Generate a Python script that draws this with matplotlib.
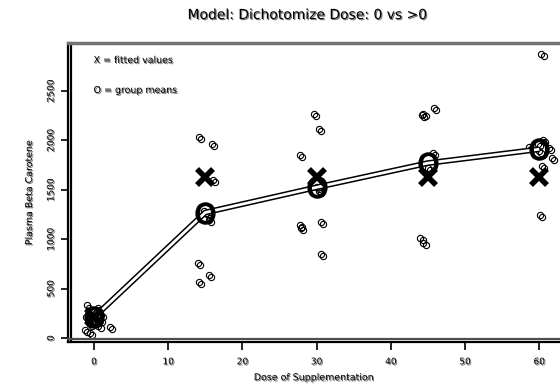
import numpy as np
import matplotlib
matplotlib.use("Agg")
import matplotlib.pyplot as plt
import matplotlib.patheffects as pe
import matplotlib.transforms as mtransforms

plt.rcParams['font.family'] = ['DejaVu Sans']

# dose groups
doses = [0, 15, 30, 45, 60]
group_means = [210, 1270, 1525, 1770, 1910]
fitted = [210, 1625, 1625, 1625, 1625]

# individual observations (jittered dose, beta carotene)
obs_dose = [-1.0, -1.1, -0.2, -1.2, -0.6, 2.2, 0.3, 0.8, -0.5, 0.5, 1.0, 0.0, 0.6, -0.3,
            14.2, 15.9, 16.0, 15.5, 14.0, 15.5, 14.2, 14.8, 15.3,
            29.6, 30.3, 27.8, 27.8, 27.9, 30.6, 30.6, 30.0, 30.3,
            44.2, 44.4, 45.8, 45.7, 44.0, 44.4, 45.0,
            60.3, 58.6, 60.5, 61.3, 61.7, 60.4, 60.1, 59.8, 60.0]
obs_value = [330, 210, 160, 80, 50, 110, 250, 180, 140, 300, 230, 270, 120, 190,
             2030, 1965, 1600, 1195, 760, 640, 570, 1290, 1240,
             2265, 2115, 1850, 1145, 1110, 1175, 850, 1530, 1490,
             2255, 2270, 2325, 1870, 1010, 960, 1720,
             2875, 1935, 2005, 1925, 1820, 1740, 1245, 1960, 1890]

shadow = [pe.withSimplePatchShadow(offset=(0.8, -0.8), shadow_rgbFace='k', alpha=0.55)]

fig = plt.figure(figsize=(5.6, 3.88), dpi=100)
ax = fig.add_axes([68 / 560, 1 - 342 / 388, 1 - 68 / 560, (342 - 42.5) / 388])

# points drawn twice with a small offset, like the original device
off = mtransforms.offset_copy(ax.transData, fig=fig, x=1.5, y=-1.5, units='points')
ax.plot(obs_dose, obs_value, 'o', ms=4.5, mfc='none', mec='k', mew=0.8)
ax.plot(obs_dose, obs_value, 'o', ms=4.5, mfc='none', mec='k', mew=0.8, transform=off)

# double line through the group means
ax.plot(doses, group_means, color='k', lw=4.2, solid_capstyle='butt', zorder=3)
ax.plot(doses, group_means, color='white', lw=2.0, solid_capstyle='butt', zorder=4)

ax.plot(doses, group_means, ls='none', marker='$\\mathrm{O}$', ms=15, mfc='k', mec='k',
        mew=1.2, zorder=5)
ax.plot(doses, fitted, ls='none', marker='x', ms=11, mec='k', mew=4, zorder=6)

ax.set_xlim(-3.5, 62.8)
ax.set_ylim(-40, 2990)
ax.set_xticks([0, 10, 20, 30, 40, 50, 60])
ax.set_yticks([0, 500, 1000, 1500, 2000, 2500])
ax.tick_params(axis='x', direction='out', length=6, width=1.2, labelsize=6.5, pad=5)
ax.tick_params(axis='y', direction='out', length=5, width=1.2, labelsize=6.5, pad=4)
for lab in ax.get_yticklabels():
    lab.set_rotation(90)
    lab.set_va('center')
for lab in ax.get_xticklabels() + ax.get_yticklabels():
    lab.set_path_effects(shadow)

ax.spines['right'].set_visible(False)
ax.spines['top'].set_color('0.45')
ax.spines['top'].set_linewidth(2.5)
ax.spines['left'].set_linewidth(1.6)
ax.spines['bottom'].set_linewidth(1.6)
ax.spines['left'].set_path_effects([pe.SimpleLineShadow(offset=(2, 0), shadow_color='k', alpha=1), pe.Normal()])
ax.spines['bottom'].set_path_effects([pe.SimpleLineShadow(offset=(0, 2), shadow_color='0.3', alpha=1), pe.Normal()])

ax.text(0.052, 0.94, 'X = fitted values', transform=ax.transAxes, fontsize=6.8,
        va='center', path_effects=shadow)
ax.text(0.052, 0.84, 'O = group means', transform=ax.transAxes, fontsize=6.8,
        va='center', path_effects=shadow)

ax.set_xlabel('Dose of Supplementation', fontsize=6.8, labelpad=5, path_effects=shadow)
ax.set_ylabel('Plasma Beta Carotene', fontsize=6.8, labelpad=9, path_effects=shadow)
fig.text(307 / 560, 1 - 15 / 388, 'Model: Dichotomize Dose: 0 vs >0', ha='center', va='center',
         fontsize=10, path_effects=shadow)

fig.savefig('out.png', dpi=100)
